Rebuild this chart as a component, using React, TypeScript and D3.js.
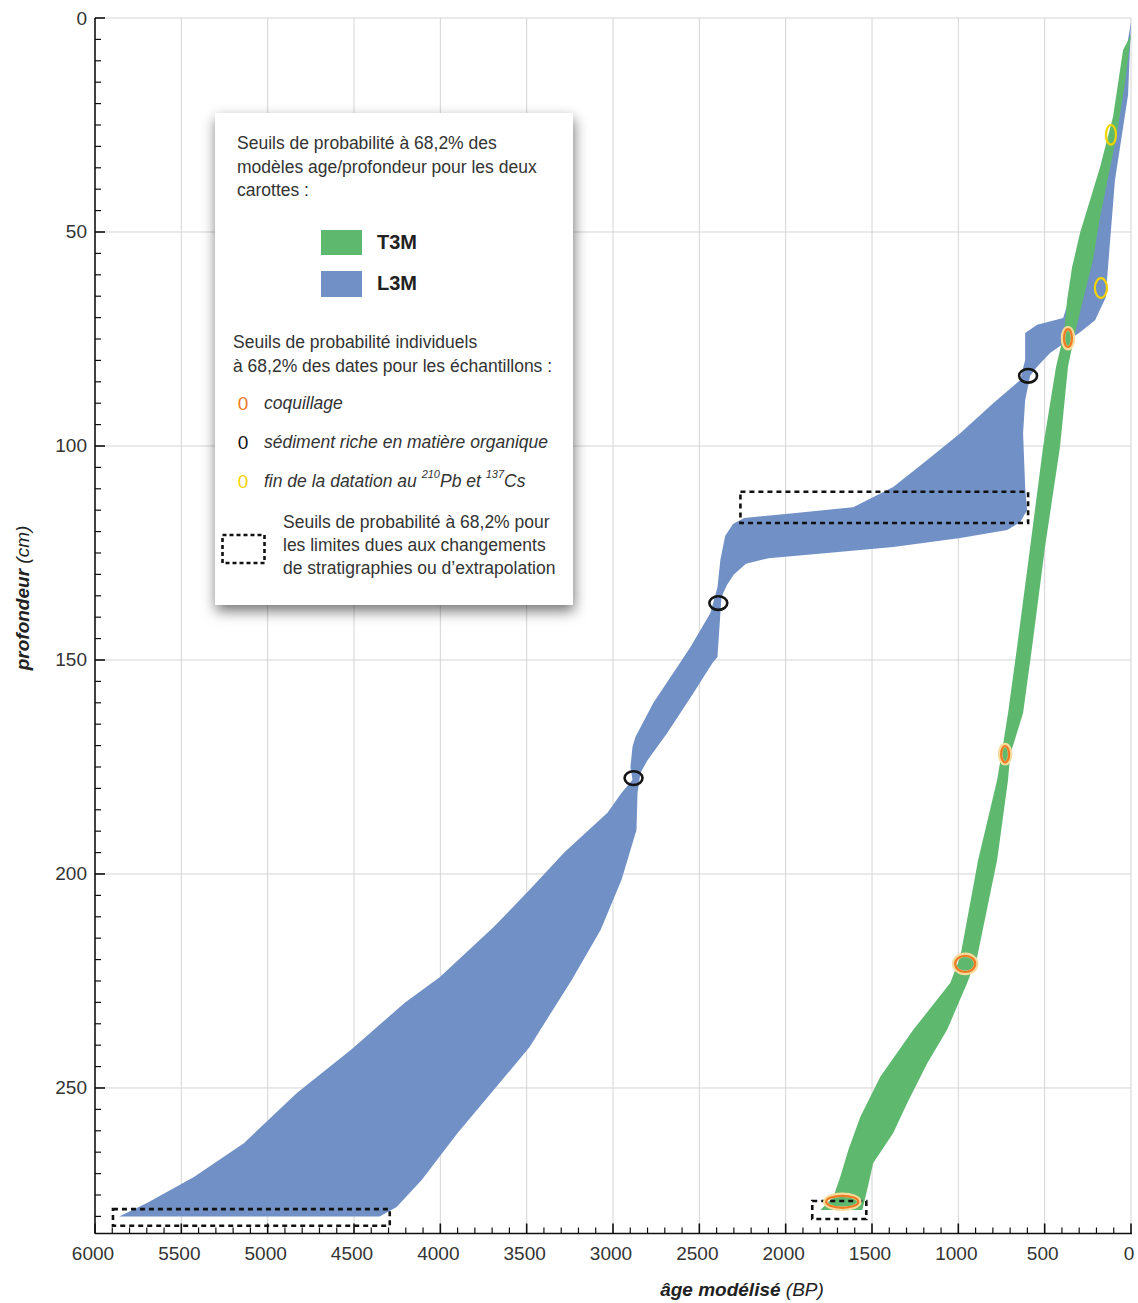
import React from "react";
import * as d3 from "d3";

type Pt = { depth: number; age: number };

// Axis tick values
const xMajorTicks = [6000, 5500, 5000, 4500, 4000, 3500, 3000, 2500, 2000, 1500, 1000, 500, 0];
const yMajorTicks = [0, 50, 100, 150, 200, 250];

// L3M core: 68.2% envelope (young = right edge, old = left edge), top -> bottom
const l3mYoungEdge: Pt[] = [
  { depth: 0.9, age: 0 }, { depth: 18, age: 17 }, { depth: 37.9, age: 93 }, { depth: 61.2, age: 139 },
  { depth: 65.2, age: 145 }, { depth: 70.6, age: 208 }, { depth: 73.4, age: 295 }, { depth: 78.3, age: 469 },
  { depth: 81.5, age: 544 }, { depth: 83.6, age: 584 }, { depth: 89.3, age: 613 }, { depth: 97, age: 625 },
  { depth: 109.6, age: 613 }, { depth: 115, age: 602 }, { depth: 117.8, age: 642 }, { depth: 119.6, age: 717 },
  { depth: 121.5, age: 989 }, { depth: 123.6, age: 1377 }, { depth: 125, age: 1759 }, { depth: 126.2, age: 2100 },
  { depth: 127.5, age: 2230 }, { depth: 130, age: 2300 }, { depth: 132.5, age: 2340 }, { depth: 135.3, age: 2372 },
  { depth: 139, age: 2378 },
  { depth: 149.3, age: 2395 }, { depth: 150.7, age: 2424 }, { depth: 157.7, age: 2534 }, { depth: 167, age: 2685 },
  { depth: 173.4, age: 2800 }, { depth: 176.4, age: 2841 }, { depth: 181.1, age: 2858 }, { depth: 189.7, age: 2864 },
  { depth: 201.4, age: 2951 }, { depth: 213.1, age: 3072 }, { depth: 224.8, age: 3240 }, { depth: 240.4, age: 3483 },
  { depth: 250.5, age: 3691 }, { depth: 260.5, age: 3900 }, { depth: 271.5, age: 4108 }, { depth: 277.8, age: 4253 },
  { depth: 280, age: 4351 },
];
const l3mOldEdge: Pt[] = [
  { depth: 0.9, age: 0 }, { depth: 5, age: 17 }, { depth: 21.5, age: 80 }, { depth: 42.5, age: 208 },
  { depth: 61.2, age: 324 }, { depth: 70.1, age: 393 }, { depth: 71.7, age: 544 }, { depth: 73.6, age: 613 },
  { depth: 79.9, age: 613 }, { depth: 84.6, age: 642 }, { depth: 90, age: 798 }, { depth: 97, age: 989 },
  { depth: 103.3, age: 1180 }, { depth: 109.6, age: 1377 }, { depth: 114.3, age: 1609 }, { depth: 115.7, age: 1956 },
  { depth: 116.8, age: 2240 }, { depth: 118.2, age: 2305 }, { depth: 121, age: 2350 }, { depth: 126.6, age: 2378 },
  { depth: 133, age: 2395 },
  { depth: 139, age: 2436 }, { depth: 147, age: 2552 }, { depth: 153, age: 2650 }, { depth: 160, age: 2766 },
  { depth: 168, age: 2870 }, { depth: 170.3, age: 2887 }, { depth: 175, age: 2899 }, { depth: 178, age: 2887 },
  { depth: 181.1, age: 2951 }, { depth: 185.7, age: 3032 }, { depth: 194.9, age: 3281 }, { depth: 203.7, age: 3483 },
  { depth: 212.4, age: 3691 }, { depth: 224.1, age: 4004 }, { depth: 230.1, age: 4206 }, { depth: 241.1, age: 4519 },
  { depth: 251.2, age: 4831 }, { depth: 262.9, age: 5138 }, { depth: 270.8, age: 5427 }, { depth: 276.9, age: 5699 },
  { depth: 280, age: 5860 },
];

// T3M core: 68.2% envelope, top -> bottom
const t3mYoungEdge: Pt[] = [
  { depth: 4, age: 0 }, { depth: 15.2, age: 35 }, { depth: 26.9, age: 81 }, { depth: 38.6, age: 139 },
  { depth: 46.5, age: 179 }, { depth: 56.5, age: 220 }, { depth: 65.9, age: 278 }, { depth: 73.6, age: 324 },
  { depth: 81.5, age: 365 }, { depth: 100.2, age: 411 }, { depth: 123.6, age: 498 }, { depth: 147, age: 573 },
  { depth: 162.4, age: 625 }, { depth: 172.2, age: 700 }, { depth: 178, age: 712 }, { depth: 196.7, age: 775 },
  { depth: 219.4, age: 891 }, { depth: 225.5, age: 949 }, { depth: 236.4, age: 1065 }, { depth: 244.2, age: 1180 },
  { depth: 253.5, age: 1296 }, { depth: 260.5, age: 1377 }, { depth: 267.5, age: 1493 }, { depth: 273.8, age: 1528 },
  { depth: 278.5, age: 1556 },
];
const t3mOldEdge: Pt[] = [
  { depth: 4, age: 0 }, { depth: 7.5, age: 46 }, { depth: 23.1, age: 104 }, { depth: 34.8, age: 179 },
  { depth: 42.5, age: 237 }, { depth: 50.2, age: 295 }, { depth: 58.2, age: 341 }, { depth: 65.9, age: 370 },
  { depth: 73.6, age: 388 }, { depth: 81.5, age: 434 }, { depth: 100.2, age: 509 }, { depth: 123.6, age: 584 },
  { depth: 147, age: 660 }, { depth: 162.4, age: 712 }, { depth: 171, age: 746 }, { depth: 178, age: 775 },
  { depth: 196.7, age: 885 }, { depth: 219.4, age: 989 }, { depth: 225.5, age: 1047 }, { depth: 236.4, age: 1261 },
  { depth: 247.4, age: 1452 }, { depth: 256.8, age: 1568 }, { depth: 264.5, age: 1637 }, { depth: 270.8, age: 1684 },
  { depth: 275.5, age: 1724 }, { depth: 278.5, age: 1799 },
];

// Individual dated samples (68.2% ranges)
const sampleDates = [
  { kind: "organic", age: 596, depth: 83.6, ageErr: 52, depthErr: 1.6 },
  { kind: "organic", age: 2390, depth: 136.7, ageErr: 52, depthErr: 1.6 },
  { kind: "organic", age: 2881, depth: 177.6, ageErr: 52, depthErr: 1.6 },
  { kind: "shell", age: 365, depth: 74.8, ageErr: 23, depthErr: 2.1 },
  { kind: "shell", age: 729, depth: 172, ageErr: 23, depthErr: 1.9 },
  { kind: "shell", age: 960, depth: 221, ageErr: 58, depthErr: 1.9 },
  { kind: "shell", age: 1672, depth: 276.6, ageErr: 93, depthErr: 1.4 },
  { kind: "pb", age: 116, depth: 27.3, ageErr: 29, depthErr: 2.3 },
  { kind: "pb", age: 174, depth: 63.1, ageErr: 35, depthErr: 2.3 },
];

// Boundary uncertainty boxes (68.2%)
const boundaryBoxes = [
  { ageOld: 2262, ageYoung: 596, depthTop: 110.7, depthBottom: 118 },
  { ageOld: 5896, ageYoung: 4293, depthTop: 278.3, depthBottom: 282.2 },
  { ageOld: 1846, ageYoung: 1533, depthTop: 276.4, depthBottom: 280.6 },
];

const BLUE = "#7090c6";
const GREEN = "#5eb96f";
const ORANGE = "#ee7a26";
const YELLOW = "#f2d400";
const FONT = "'Liberation Sans', Arial, Helvetica, sans-serif";

export default function App() {
  const W = 1138;
  const H = 1303;
  const x = d3.scaleLinear().domain([6000, 0]).range([95, 1131]);
  const y = d3.scaleLinear().domain([0, 284]).range([18, 1233.5]);
  const x0 = x(6000);
  const yBottom = y(284);

  const line = d3.line<Pt>().x((p) => x(p.age)).y((p) => y(p.depth));
  const band = (young: Pt[], old: Pt[]) => (line([...young, ...old.slice().reverse()]) || "") + "Z";

  const minorX = d3.range(0, 6001, 100).filter((v) => v % 500 !== 0);
  const minorY = d3.range(0, 284, 5).filter((v) => v % 50 !== 0);

  const strokeFor = (k: string) => (k === "organic" ? "#151515" : k === "shell" ? ORANGE : YELLOW);

  const legendText = { fontFamily: FONT, fontSize: 17.5, fill: "#333" } as const;

  return (
    <div style={{ position: "absolute", left: 0, top: 0 }}>
      <svg width={W} height={H} viewBox={`0 0 ${W} ${H}`} style={{ display: "block", background: "#fff" }}>
        <defs>
          <filter id="shadow" x="-20%" y="-20%" width="140%" height="140%">
            <feDropShadow dx="1" dy="6" stdDeviation="7" floodColor="#000" floodOpacity="0.55" />
          </filter>
        </defs>
        <rect x={0} y={0} width={W} height={H} fill="#fff" />

        {/* grid */}
        <g stroke="#d4d4d4" strokeWidth={1}>
          {xMajorTicks.filter((v) => v !== 6000).map((v) => (
            <line key={"gx" + v} x1={x(v)} x2={x(v)} y1={y(0)} y2={yBottom} />
          ))}
          {yMajorTicks.map((v) => (
            <line key={"gy" + v} x1={x0} x2={x(0)} y1={y(v)} y2={y(v)} />
          ))}
        </g>

        {/* envelopes */}
        <path d={band(l3mYoungEdge, l3mOldEdge)} fill={BLUE} />
        <path d={band(t3mYoungEdge, t3mOldEdge)} fill={GREEN} />

        {/* boundary boxes */}
        <g fill="none" stroke="#111" strokeWidth={2.6} strokeDasharray="5 4">
          {boundaryBoxes.map((b, i) => (
            <rect key={"bb" + i} x={x(b.ageOld)} y={y(b.depthTop)} width={x(b.ageYoung) - x(b.ageOld)} height={y(b.depthBottom) - y(b.depthTop)} />
          ))}
        </g>

        {/* sample date ellipses */}
        {sampleDates.map((s, i) => {
          const cx = x(s.age);
          const cy = y(s.depth);
          const rx = x(0) - x(s.ageErr);
          const ry = y(s.depthErr) - y(0);
          return (
            <g key={"sd" + i}>
              {s.kind === "shell" && (
                <ellipse cx={cx} cy={cy} rx={rx + 1} ry={ry + 1} fill="none" stroke="#f6dc9a" strokeWidth={4.5} />
              )}
              <ellipse cx={cx} cy={cy} rx={rx} ry={ry} fill="none" stroke={strokeFor(s.kind)} strokeWidth={s.kind === "organic" ? 2.6 : 2.2} />
            </g>
          );
        })}

        {/* axes */}
        <g stroke="#111" strokeWidth={1.6}>
          <line x1={x0} x2={x0} y1={y(0)} y2={yBottom} />
          <line x1={x0} x2={x(0) + 1} y1={yBottom} y2={yBottom} />
          {yMajorTicks.map((v) => (
            <line key={"ty" + v} x1={x0} x2={x0 + 10} y1={y(v)} y2={y(v)} />
          ))}
          {minorY.map((v) => (
            <line key={"mty" + v} x1={x0} x2={x0 + 6} y1={y(v)} y2={y(v)} strokeWidth={1.2} />
          ))}
          {xMajorTicks.map((v) => (
            <line key={"tx" + v} x1={x(v)} x2={x(v)} y1={yBottom} y2={yBottom - 10} />
          ))}
          {minorX.map((v) => (
            <line key={"mtx" + v} x1={x(v)} x2={x(v)} y1={yBottom} y2={yBottom - 6} strokeWidth={1.2} />
          ))}
        </g>
        <g fontFamily={FONT} fontSize={19} fill="#333">
          {yMajorTicks.map((v) => (
            <text key={"ly" + v} x={x0 - 8} y={y(v)} textAnchor="end" dominantBaseline="central">{v}</text>
          ))}
          {xMajorTicks.map((v) => (
            <text key={"lx" + v} x={x(v) - 2} y={yBottom + 20} textAnchor="middle" dominantBaseline="central">{v}</text>
          ))}
        </g>

        {/* axis titles */}
        <text x={742} y={1296} textAnchor="middle" fontFamily={FONT} fontSize={19} fill="#222">
          <tspan fontWeight="bold" fontStyle="italic">âge modélisé</tspan>
          <tspan fontStyle="italic"> (BP)</tspan>
        </text>
        <text transform="translate(29,598) rotate(-90)" textAnchor="middle" fontFamily={FONT} fontSize={19} fill="#222">
          <tspan fontWeight="bold" fontStyle="italic">profondeur</tspan>
          <tspan fontStyle="italic"> (cm)</tspan>
        </text>

        {/* legend */}
        <rect x={215} y={113} width={358} height={492} fill="#fff" filter="url(#shadow)" />
        <g {...legendText}>
          <text x={237} y={149}>Seuils de probabilité à 68,2% des</text>
          <text x={237} y={173}>modèles age/profondeur pour les deux</text>
          <text x={237} y={196}>carottes :</text>
          <text x={233} y={348}>Seuils de probabilité individuels</text>
          <text x={233} y={372}>à 68,2% des dates pour les échantillons :</text>
          <text x={264} y={409} fontStyle="italic">coquillage</text>
          <text x={264} y={448} fontStyle="italic">sédiment riche en matière organique</text>
          <text x={264} y={487} fontStyle="italic">
            fin de la datation au <tspan fontSize={11} dy={-9}>210</tspan>
            <tspan dy={9}>Pb et </tspan>
            <tspan fontSize={11} dy={-9}>137</tspan>
            <tspan dy={9}>Cs</tspan>
          </text>
          <text x={283} y={528}>Seuils de probabilité à 68,2% pour</text>
          <text x={283} y={551}>les limites dues aux changements</text>
          <text x={283} y={574}>de stratigraphies ou d’extrapolation</text>
        </g>
        <g fontFamily={FONT} fontSize={19}>
          <text x={243} y={410} textAnchor="middle" fill={ORANGE}>0</text>
          <text x={243} y={449} textAnchor="middle" fill="#111">0</text>
          <text x={243} y={488} textAnchor="middle" fill={YELLOW}>0</text>
        </g>
        <rect x={321} y={230} width={41} height={25} fill={GREEN} />
        <rect x={321} y={271} width={41} height={26} fill={BLUE} />
        <g fontFamily={FONT} fontSize={20} fontWeight="bold" fill="#222">
          <text x={377} y={249}>T3M</text>
          <text x={377} y={290}>L3M</text>
        </g>
        <rect x={222.5} y={535} width={42} height={28} fill="none" stroke="#111" strokeWidth={2.6} strokeDasharray="4 3" />
      </svg>
    </div>
  );
}
